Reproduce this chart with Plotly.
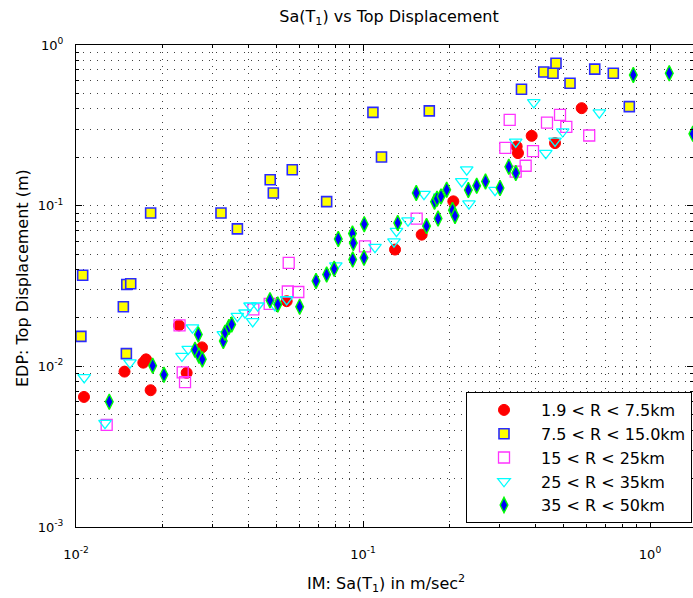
import plotly.graph_objects as go

# ---------------- data ----------------
names = ["1.9 < R < 7.5km", "7.5 < R < 15.0km", "15 < R < 25km", "25 < R < 35km", "35 < R < 50km"]

r1_x = [0.01066, 0.01476, 0.01754, 0.01716, 0.0182, 0.02286, 0.02748, 0.0243, 0.0542,
        0.1293, 0.1601, 0.2064, 0.3431, 0.3467, 0.387, 0.4667, 0.578]
r1_y = [0.00645, 0.00927, 0.01105, 0.01054, 0.0071, 0.01798, 0.01312, 0.00911, 0.02544,
        0.0533, 0.066, 0.1064, 0.2335, 0.2125, 0.2721, 0.2452, 0.4044]

r2_x = [0.01055, 0.0104, 0.01462, 0.01503, 0.01551, 0.01498, 0.0182, 0.0320, 0.0365,
        0.0475, 0.0487, 0.0567, 0.0747, 0.1083, 0.116, 0.1702, 0.3566, 0.4266,
        0.4592, 0.4704, 0.5264, 0.6418, 0.7449, 0.847]
r2_y = [0.0369, 0.01536, 0.02349, 0.0323, 0.03264, 0.01199, 0.0901, 0.0901, 0.0717,
        0.145, 0.120, 0.1674, 0.1059, 0.3808, 0.2007, 0.389, 0.5305, 0.6796,
        0.667, 0.7699, 0.5783, 0.7075, 0.667, 0.4137]

r3_x = [0.01279, 0.02295, 0.02354, 0.02398, 0.04148, 0.0473, 0.0551, 0.0547, 0.0595,
        0.1016, 0.1538, 0.3132, 0.3244, 0.3404, 0.3687, 0.3911, 0.4376, 0.4858,
        0.511, 0.614]
r3_y = [0.00432, 0.01798, 0.00918, 0.00798, 0.0226, 0.0245, 0.04407, 0.02922, 0.02902,
        0.05587, 0.0831, 0.2292, 0.342, 0.1627, 0.1772, 0.2187, 0.3292, 0.3675,
        0.3095, 0.2733]

r4_x = [0.01068, 0.01262, 0.01542, 0.0234, 0.0246, 0.02546, 0.0326, 0.0365, 0.0388,
        0.04128, 0.0404, 0.04298, 0.04935, 0.0542, 0.0804, 0.1101, 0.1282, 0.1308,
        0.1435, 0.1631, 0.1855, 0.2208, 0.2298, 0.2340, 0.2884, 0.3404, 0.3937,
        0.4334, 0.4667, 0.4964, 0.6659]
r4_y = [0.00854, 0.00443, 0.01054, 0.01159, 0.01281, 0.0174, 0.0158, 0.02053, 0.02156,
        0.01904, 0.02382, 0.02382, 0.02392, 0.02606, 0.04239, 0.05524, 0.05975, 0.0694,
        0.0807, 0.1179, 0.1137, 0.1416, 0.1674, 0.1029, 0.1248, 0.2497, 0.4395,
        0.2125, 0.2533, 0.2893, 0.3797]

r5_x = [0.01306, 0.0185, 0.02025, 0.02668, 0.02598, 0.02683, 0.02755, 0.0326, 0.03305,
        0.0341, 0.03487, 0.04742, 0.05047, 0.06017, 0.06859, 0.0747, 0.07935, 0.082,
        0.0919, 0.09251, 0.09207, 0.101, 0.1008, 0.1321, 0.1533, 0.1665, 0.1826,
        0.1775, 0.1811, 0.187, 0.1957, 0.205, 0.2092, 0.2328, 0.249, 0.2672, 0.3002,
        0.3221, 0.3407, 0.8746, 1.167, 1.41]
r5_y = [0.00602, 0.0101, 0.00886, 0.0158, 0.0127, 0.01162, 0.01105, 0.01436, 0.0162,
        0.01759, 0.01824, 0.0258, 0.02427, 0.0235, 0.03398, 0.03727, 0.04044, 0.06211,
        0.06701, 0.05849, 0.0462, 0.0767, 0.04734, 0.0781, 0.120, 0.0746, 0.0831,
        0.1059, 0.1105, 0.1142, 0.1257, 0.0938, 0.0864, 0.1252, 0.1331, 0.1416, 0.1288,
        0.1747, 0.1596, 0.6511, 0.667, 0.28]

x_tickvals = [0.01, 0.1, 1]
x_ticktext = ["10<sup>-2</sup>", "10<sup>-1</sup>", "10<sup>0</sup>"]
y_tickvals = [0.001, 0.01, 0.1, 1]
y_ticktext = ["10<sup>-3</sup>", "10<sup>-2</sup>", "10<sup>-1</sup>", "10<sup>0</sup>"]

# ---------------- figure ----------------
FONT = "DejaVu Sans"
fig = go.Figure()

styles = [
    dict(symbol="circle", size=11, color="#ff0000", line=dict(color="#ff0000", width=1)),
    dict(symbol="square", size=10, color="#ffff00", line=dict(color="#2a2aff", width=1.6)),
    dict(symbol="square-open", size=11, color="#ff33ff", line=dict(color="#ff33ff", width=1.3)),
    dict(symbol="triangle-down-open", size=11, color="#00ffff", line=dict(color="#00ffff", width=1.3)),
    dict(symbol="diamond-tall", size=11, color="#0000ff", line=dict(color="#00ff00", width=1.4)),
]
xs = [r1_x, r2_x, r3_x, r4_x, r5_x]
ys = [r1_y, r2_y, r3_y, r4_y, r5_y]
for i in range(5):
    fig.add_trace(go.Scatter(x=xs[i], y=ys[i], mode="markers", name=names[i],
                             legendgroup="g%d" % i, marker=styles[i]))

minor_vals = [m * 10.0 ** e for e in range(-3, 1) for m in range(2, 10)]
grid = dict(showgrid=True, gridcolor="rgba(0,0,0,0.75)", gridwidth=1, griddash="1px,6px")

common = dict(type="log", showline=True, linecolor="black", linewidth=1, mirror="ticks",
              ticks="inside", ticklen=6, tickcolor="black", tickwidth=1,
              tickfont=dict(family=FONT, size=13, color="black"), zeroline=False,
              **grid)

fig.update_xaxes(range=[-2, 0.1498], tickmode="array", tickvals=x_tickvals, ticktext=x_ticktext,
                 ticklabelstandoff=15,
                 minor=dict(tickmode="array", tickvals=minor_vals, ticks="inside", ticklen=3,
                            tickcolor="black", **grid), **common)
fig.update_yaxes(range=[-3, 0], tickmode="array", tickvals=y_tickvals, ticktext=y_ticktext,
                 ticklabelstandoff=9,
                 minor=dict(tickmode="array", tickvals=minor_vals, ticks="inside", ticklen=3,
                            tickcolor="black", **grid), **common)

fig.update_layout(
    width=693, height=598, autosize=False,
    margin=dict(l=76, r=0, t=45, b=71, pad=0),
    paper_bgcolor="white", plot_bgcolor="white",
    font=dict(family=FONT, size=13, color="black"),
    title=dict(text="Sa(T<sub>1</sub>) vs Top Displacement", x=(389 - 76) / 617, xref="paper",
               xanchor="center", y=1 - 16 / 598, yref="container", yanchor="middle",
               font=dict(family=FONT, size=16, color="black")),
    legend=dict(x=(692 - 76) / 617, y=(527 - 523) / 482, xanchor="right", yanchor="bottom",
                bgcolor="white", bordercolor="black", borderwidth=1,
                font=dict(family=FONT, size=16, color="black"),
                tracegroupgap=2, itemwidth=64, traceorder="normal"),
    showlegend=True,
    annotations=[
        dict(text="IM: Sa(T<sub>1</sub>) in m/sec<sup>2</sup>", xref="paper", yref="paper",
             x=(386 - 76) / 617, y=(527 - 583) / 482, xanchor="center", yanchor="middle",
             showarrow=False, font=dict(family=FONT, size=16, color="black")),
        dict(text="EDP: Top Displacement (m)", xref="paper", yref="paper",
             x=(22 - 76) / 617, y=(527 - 278) / 482, xanchor="center", yanchor="middle",
             textangle=-90, showarrow=False, font=dict(family=FONT, size=16, color="black")),
    ],
)

fig.write_html("out.html")
